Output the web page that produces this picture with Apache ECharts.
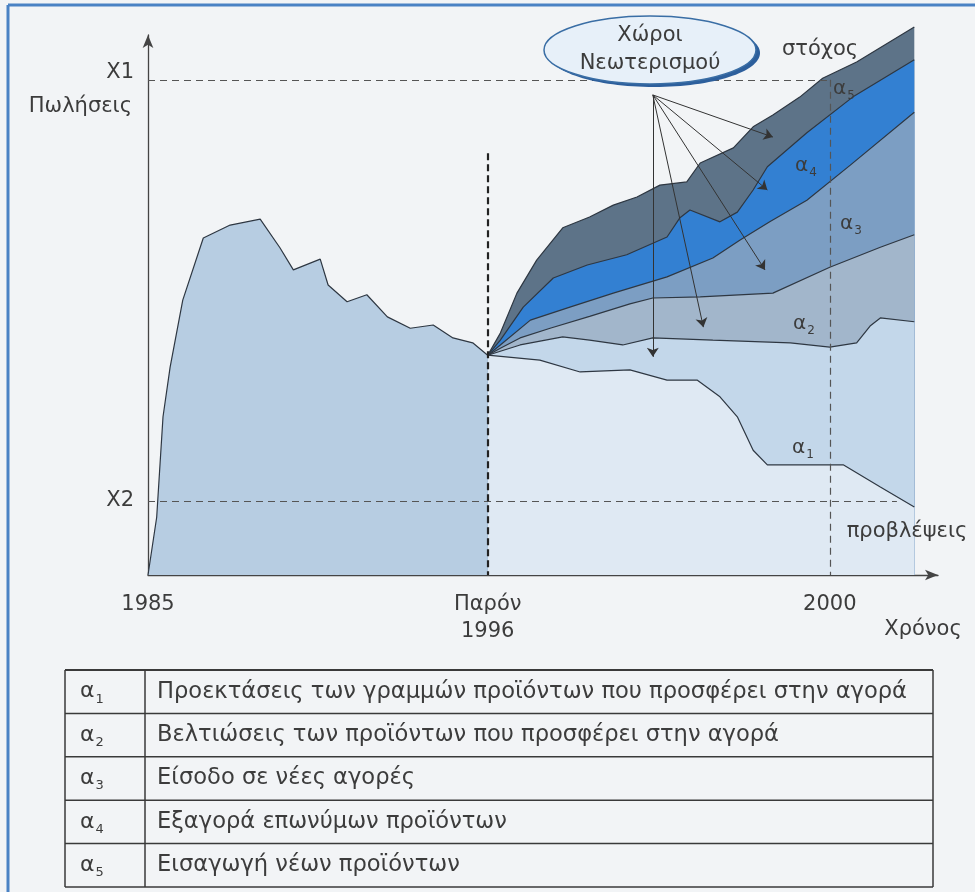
<!DOCTYPE html>
<html>
<head>
<meta charset="utf-8">
<script src="https://cdn.jsdelivr.net/npm/echarts@6/dist/echarts.min.js"></script>
<style>
html,body{margin:0;padding:0;background:#f2f4f6;}
#chart{width:975px;height:892px;}
</style>
</head>
<body>
<div id="chart"></div>
<script>
// time axis is not to scale: 1985 ... Παρόν 1996 ... 2000 on a 0..100 track
let tickValues = [0, 43, 86.3];
let tickLabels = ['1985', 'Παρόν\n1996', '2000'];
let levelValues = [13.7, 91.7];
let levelLabels = ['X2', 'X1'];

// sales up to now
let pastT = [0, 1.1, 1.9, 2.8, 4.4, 7.0, 10.4, 14.2, 16.7, 18.4, 21.8, 22.8, 25.2, 27.7, 30.3, 33.2, 36.1, 38.6, 41.1, 43];
let pastV = [0, 10.7, 29.3, 38.5, 50.9, 62.4, 64.8, 65.9, 60.6, 56.5, 58.5, 53.7, 50.6, 51.9, 47.8, 45.7, 46.3, 43.9, 43.0, 40.7];

// upper edge of each band after 1996 [t, v]
let topA5 = [[43, 40.7], [44.6, 44.8], [46.7, 52.2], [49.2, 58.3], [52.5, 64.3], [55.9, 66.3], [58.9, 68.5], [61.9, 70.0], [64.8, 72.2], [68.2, 72.8], [69.9, 76.3], [74.1, 79.1], [76.6, 83.0], [79.1, 85.2], [82.5, 88.5], [85.4, 92.0], [89.7, 95.0], [97, 101.5]];
let topA4 = [[43, 40.7], [44.6, 43.5], [47.5, 49.6], [51.3, 55.0], [55.6, 57.4], [60.6, 59.3], [65.7, 62.6], [67.3, 66.1], [68.6, 67.6], [72.4, 65.4], [74.6, 67.2], [76.6, 71.3], [78.4, 75.6], [83.4, 81.9], [89.2, 88.5], [97, 95.4]];
let topA3 = [[43, 40.7], [44.6, 42.6], [48.4, 47.2], [53.4, 49.6], [58.9, 52.2], [65.7, 55.2], [71.5, 58.7], [74.9, 62.0], [78.7, 65.4], [83.4, 69.4], [88.9, 75.9], [97, 85.7]];
let topA2 = [[43, 40.7], [44.6, 42.0], [47.1, 43.9], [50.9, 45.7], [55.9, 47.9], [61.0, 50.2], [63.9, 51.3], [69.9, 51.5], [79.1, 52.2], [86.3, 57.0], [92.7, 60.7], [97, 63.0]];
let topA1 = [[43, 40.7], [47.1, 42.6], [52.5, 44.1], [55.9, 43.5], [60.1, 42.6], [63.9, 43.9], [71.5, 43.5], [81.3, 43.0], [86.3, 42.2], [89.7, 43.0], [91.4, 46.1], [92.7, 47.6], [97, 46.9]];
let forecast = [[43, 40.7], [49.6, 39.8], [54.7, 37.6], [61.0, 38.0], [65.7, 36.1], [69.5, 36.1], [72.4, 33.0], [74.6, 29.3], [76.6, 23.1], [78.4, 20.4], [88.0, 20.4], [92.7, 16.3], [97, 12.6]];

// arrows out of "Χώροι Νεωτερισμού"
let arrowFrom = [63.9, 88.9];
let arrowTo = [[63.9, 40.4], [70.3, 45.9], [78.1, 56.5], [78.4, 71.3], [79.1, 81.1]];

let codes = ['1', '2', '3', '4', '5'];
let descriptions = [
  'Προεκτάσεις των γραμμών προϊόντων που προσφέρει στην αγορά',
  'Βελτιώσεις των προϊόντων που προσφέρει στην αγορά',
  'Είσοδο σε νέες αγορές',
  'Εξαγορά επωνύμων προϊόντων',
  'Εισαγωγή νέων προϊόντων'
];

let font = "'DejaVu Sans', sans-serif";
let ink = '#3c3c3c';

function band(name, data, color) {
  return {
    name: name,
    type: 'line',
    data: data,
    symbol: 'none',
    clip: false,
    lineStyle: {color: '#2e3742', width: 1.2},
    areaStyle: {color: color, opacity: 1}
  };
}

// α with a lowered index, used in the plot and in the table
function alpha(c, x, y, size) {
  return {
    type: 'text', x: x, y: y, z: 20,
    style: {
      text: 'α{s|' + c + '}', fill: ink, font: size + 'px ' + font,
      verticalAlign: 'middle', lineHeight: size + 6,
      rich: {s: {fontSize: Math.round(size * 0.6), fontFamily: font, fill: ink, verticalAlign: 'bottom', padding: [0, 0, 0, 1]}}
    }
  };
}

function label(txt, x, y, align) {
  return {
    type: 'text', x: x, y: y, z: 20,
    style: {text: txt, fill: ink, font: '21px ' + font, align: align || 'center', verticalAlign: 'middle'}
  };
}

// table under the chart
let tab = {left: 65, right: 933, top: 670, row: 43.4, col: 145};
let tableParts = [];
for (let i = 0; i <= codes.length; i++) {
  let y = tab.top + i * tab.row;
  tableParts.push({
    type: 'line', z: 20,
    shape: {x1: tab.left, y1: y, x2: tab.right, y2: y},
    style: {stroke: '#3a3a3a', lineWidth: i === 0 ? 2.2 : 1.5}
  });
}
let tabBottom = tab.top + codes.length * tab.row;
[tab.left, tab.col, tab.right].forEach(function (x) {
  tableParts.push({
    type: 'line', z: 20,
    shape: {x1: x, y1: tab.top, x2: x, y2: tabBottom},
    style: {stroke: '#3a3a3a', lineWidth: 1.5}
  });
});
codes.forEach(function (c, i) {
  let cy = tab.top + (i + 0.5) * tab.row;
  tableParts.push(alpha(c, 80, cy, 22));
  tableParts.push({
    type: 'text', x: 157, y: cy, z: 20,
    style: {text: descriptions[i], fill: ink, font: '22.6px ' + font, verticalAlign: 'middle'}
  });
});

let option = {
  backgroundColor: '#f2f4f6',
  animation: false,
  grid: {left: 148, right: 37, top: 35, bottom: 317},
  xAxis: {
    type: 'value', min: 0, max: 100,
    axisLine: {lineStyle: {color: '#444', width: 1.3}, symbol: ['none', 'arrow'], symbolSize: [8, 13]},
    axisTick: {show: false},
    splitLine: {show: false},
    axisLabel: {
      customValues: tickValues,
      formatter: function (v) { return tickLabels[tickValues.indexOf(v)]; },
      color: ink, fontSize: 21, fontFamily: font, lineHeight: 27, margin: 16
    }
  },
  yAxis: {
    type: 'value', min: 0, max: 100,
    axisLine: {show: true, lineStyle: {color: '#444', width: 1.3}, symbol: ['none', 'arrow'], symbolSize: [8, 13]},
    axisTick: {show: false},
    splitLine: {show: false},
    axisLabel: {
      customValues: levelValues,
      formatter: function (v) {
        let s = levelLabels[levelValues.indexOf(v)];
        return v > 50 ? '{up|' + s + '}' : s;
      },
      color: ink, fontSize: 21, fontFamily: font, margin: 14,
      rich: {up: {fontSize: 21, fontFamily: font, color: ink, padding: [0, 0, 14, 0]}}
    }
  },
  series: [
    {
      name: 'Πωλήσεις', type: 'line', symbol: 'none',
      data: pastT.map(function (t, i) { return [t, pastV[i]]; }),
      lineStyle: {color: '#2e3742', width: 1.2},
      areaStyle: {color: '#b7cde2', opacity: 1}
    },
    band('α5', topA5, '#5d7388'),
    band('α4', topA4, '#3380d2'),
    band('α3', topA3, '#7c9ec3'),
    band('α2', topA2, '#a2b6cb'),
    band('α1', topA1, '#c3d7ea'),
    band('προβλέψεις', forecast, '#dfe9f3'),
    {
      type: 'lines', coordinateSystem: 'cartesian2d', z: 5,
      lineStyle: {color: '#555', width: 1.2, type: [7, 5], opacity: 1},
      data: [
        {coords: [[0, levelValues[1]], [tickValues[2], levelValues[1]]]},
        {coords: [[tickValues[2], levelValues[1]], [tickValues[2], 0]]},
        {coords: [[0, levelValues[0]], [94.8, levelValues[0]]]},
        {coords: [[tickValues[1], 78.1], [tickValues[1], 0]], lineStyle: {color: '#222', width: 2.2, type: [7, 4]}}
      ]
    },
    {
      type: 'lines', coordinateSystem: 'cartesian2d', z: 6,
      symbol: ['none', 'arrow'], symbolSize: 9,
      lineStyle: {color: '#333', width: 1, opacity: 1},
      data: arrowTo.map(function (p) { return {coords: [arrowFrom, p]}; })
    }
  ],
  graphic: [
    {type: 'line', shape: {x1: 8, y1: 5, x2: 975, y2: 5}, style: {stroke: '#4a82c4', lineWidth: 3}, z: 30},
    {type: 'line', shape: {x1: 8, y1: 5, x2: 8, y2: 892}, style: {stroke: '#4a82c4', lineWidth: 3}, z: 30},
    {type: 'ellipse', shape: {cx: 654, cy: 53, rx: 106, ry: 34}, style: {fill: '#2d5f9c'}, z: 20},
    {type: 'ellipse', shape: {cx: 650, cy: 50, rx: 106, ry: 34}, style: {fill: '#e7f0f9', stroke: '#3a6ea5', lineWidth: 1.5}, z: 21},
    {type: 'text', x: 650, y: 50, z: 22, style: {text: 'Χώροι\nΝεωτερισμού', fill: ink, font: '21px ' + font, align: 'center', verticalAlign: 'middle', lineHeight: 28}},
    label('Πωλήσεις', 132, 107, 'right'),
    label('στόχος', 820, 50),
    label('προβλέψεις', 907, 532),
    label('Χρόνος', 923, 630),
    alpha('5', 833, 89, 20),
    alpha('4', 795, 166, 20),
    alpha('3', 840, 224, 20),
    alpha('2', 793, 324, 20),
    alpha('1', 792, 448, 20),
    {type: 'group', children: tableParts}
  ]
};

let chart = echarts.init(document.getElementById('chart'));
chart.setOption(option);
</script>
</body>
</html>
